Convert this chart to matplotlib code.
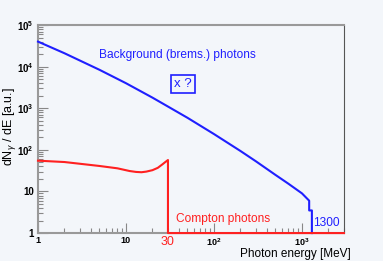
import numpy as np
import matplotlib.pyplot as plt

plt.rcParams['font.family'] = ['Liberation Sans', 'DejaVu Sans']
plt.rcParams['mathtext.fontset'] = 'custom'
plt.rcParams['mathtext.rm'] = 'Liberation Sans'
plt.rcParams['mathtext.it'] = 'Liberation Sans:italic'
plt.rcParams['mathtext.bf'] = 'Liberation Sans:bold'

# background (brems.) photons spectrum
brems_e = [1, 2, 3, 5, 10, 20, 30, 50, 100, 200, 300, 500, 700, 1000, 1208, 1208, 1297, 1297]
brems_n = [4.0e4, 2.1e4, 1.4e4, 8.4e3, 4.0e3, 1.8e3, 1.1e3, 590, 240, 94, 53, 25, 15.4, 9.0, 6.0, 3.5, 3.5, 1.0]

# compton photons spectrum
compton_e = [1, 2, 5, 8, 11, 13, 15, 17, 20, 23, 26, 28, 30, 30, 3000]
compton_n = [55, 51, 41, 36, 31, 29.5, 29, 30, 32.5, 37, 45, 51, 57, 1, 1]

xticks = [1, 10, 100, 1000]
xlabels = ['1', '10', r'$\mathbf{10^{2}}$', r'$\mathbf{10^{3}}$']
yticks = [1, 10, 100, 1e3, 1e4, 1e5]
ylabels = ['1', '10', r'$\mathbf{10^{2}}$', r'$\mathbf{10^{3}}$', r'$\mathbf{10^{4}}$', r'$\mathbf{10^{5}}$']

bg = '#f3f6fa'
blue = '#1f1fff'
red = '#ff2020'

fig = plt.figure(figsize=(3.83, 2.61), dpi=100, facecolor=bg)
ax = fig.add_axes([0.0992, 0.107, 0.7988, 0.797], facecolor=bg)

ax.plot(brems_e, brems_n, color=blue, lw=1.5, clip_on=False, zorder=3)
ax.plot(compton_e, compton_n, color=red, lw=1.5, clip_on=False, zorder=3)

ax.set_xscale('log')
ax.set_yscale('log')
ax.set_xlim(1, 3000)
ax.set_ylim(1, 1e5)

ax.set_xticks(xticks)
ax.set_xticklabels(xlabels, fontsize=6.5, fontweight='bold')
ax.set_yticks(yticks)
ax.set_yticklabels(ylabels, fontsize=7, fontweight='bold')
ax.tick_params(which='major', direction='in', length=7, width=0.8, color='#888888', pad=3)
ax.tick_params(which='minor', direction='in', length=3.5, width=0.8, color='#888888')
ax.tick_params(axis='x', pad=2)

for s in ['left', 'bottom', 'top']:
    ax.spines[s].set_color('#999999')
    ax.spines[s].set_linewidth(1.5)
ax.spines['right'].set_color('#555555')
ax.spines['right'].set_linewidth(0.8)

fig.text(0.917, 0.004, 'Photon energy [MeV]', fontsize=8.5, ha='right', va='bottom')
fig.text(0.024, 0.515, r'dN$_\gamma$ / dE [a.u.]', fontsize=9, ha='center', va='center', rotation=90)

ax.text(0.2, 0.856, 'Background (brems.) photons', transform=ax.transAxes,
        color=blue, fontsize=8.6, va='center', ha='left')
ax.text(0.445, 0.716, 'x ?', transform=ax.transAxes, color=blue, fontsize=9.5,
        va='center', ha='left',
        bbox=dict(boxstyle='square,pad=0.2', fc='none', ec=blue, lw=1.2))
ax.text(0.45, 0.067, 'Compton photons', transform=ax.transAxes,
        color=red, fontsize=8.6, va='center', ha='left')
ax.text(1330, 1.75, '1300', color=blue, fontsize=8.6, va='center', ha='left')
ax.text(30, 0.62, '30', color=red, fontsize=9, va='center', ha='center')

fig.savefig('out.png', dpi=100, facecolor=bg)
